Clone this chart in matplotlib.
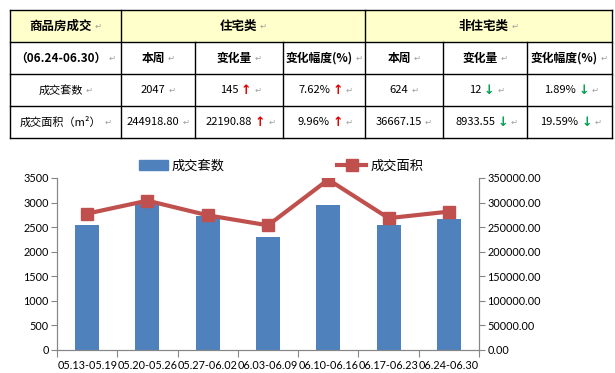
import numpy as np
import matplotlib
matplotlib.use('Agg')
import matplotlib.pyplot as plt
from matplotlib.lines import Line2D
from matplotlib.patches import Patch, Rectangle

plt.rcParams['font.family'] = ['Noto Sans CJK SC', 'DejaVu Sans']

# 图表数据
weeks = ['05.13-05.19', '05.20-05.26', '05.27-06.02', '06.03-06.09',
         '06.10-06.16', '06.17-06.23', '06.24-06.30']
units = [2551, 3000, 2720, 2293, 2958, 2538, 2671]           # 成交套数
area = [277500, 303900, 274100, 253700, 346700, 268330, 281590]  # 成交面积

# 表格数据
header_top = ['商品房成交', '住宅类', '非住宅类']
header_sub = ['（06.24-06.30）', '本周', '变化量', '变化幅度(%)',
              '本周', '变化量', '变化幅度(%)']
row_labels = ['成交套数', '成交面积（m²）']
units_row = ['2047', '145', '7.62%', '624', '12', '1.89%']
area_row = ['244918.80', '22190.88', '9.96%', '36667.15', '8933.55', '19.59%']
trend = [None, 'up', 'up', None, 'down', 'down']

W, H = 615, 373
fig = plt.figure(figsize=(W / 100, H / 100), dpi=100)

# ---- 表格 ----
tab = fig.add_axes([0, 0, 1, 1])
tab.set_xlim(0, W)
tab.set_ylim(H, 0)
tab.axis('off')

col_x = [10, 121, 195, 283, 365, 443, 527, 612]
row_y = [10, 42, 74, 106, 138]
grey = '#a0a0a0'

tab.add_patch(Rectangle((col_x[0], row_y[0]), col_x[-1] - col_x[0], row_y[1] - row_y[0],
                        facecolor='#ffffcc', edgecolor='none'))
for y in row_y:
    tab.plot([col_x[0], col_x[-1]], [y, y], color='black', lw=1)
for i, x in enumerate(col_x):
    if i in (2, 3, 5, 6):
        tab.plot([x, x], [row_y[1], row_y[-1]], color='black', lw=1)
    else:
        tab.plot([x, x], [row_y[0], row_y[-1]], color='black', lw=1)


def cell(x0, x1, y0, y1, s, bold=False, arrow=None, size=8):
    shift = 5 if arrow is None else 10
    cx = (x0 + x1) / 2 - shift
    cy = (y0 + y1) / 2
    t = tab.text(cx, cy, s, ha='center', va='center', fontsize=size,
                 fontweight='bold' if bold else 'normal')
    last = t
    if arrow is not None:
        last = tab.annotate('↑' if arrow == 'up' else '↓', xy=(1, 0.5), xycoords=t,
                            xytext=(2, 0), textcoords='offset points', va='center',
                            fontsize=size + 1, fontweight='bold', family='DejaVu Sans',
                            color='#e00000' if arrow == 'up' else '#00a050')
    tab.annotate('↵', xy=(1, 0.5), xycoords=last, xytext=(2, 0),
                 textcoords='offset points', va='center', fontsize=6,
                 family='DejaVu Sans', color=grey)


cell(col_x[0], col_x[1], row_y[0], row_y[1], header_top[0], bold=True, size=9)
cell(col_x[1], col_x[4], row_y[0], row_y[1], header_top[1], bold=True, size=9)
cell(col_x[4], col_x[7], row_y[0], row_y[1], header_top[2], bold=True, size=9)
for j, s in enumerate(header_sub):
    cell(col_x[j], col_x[j + 1], row_y[1], row_y[2], s, bold=True, size=8.5)
for r, vals in enumerate([units_row, area_row]):
    y0, y1 = row_y[r + 2], row_y[r + 3]
    cell(col_x[0], col_x[1], y0, y1, row_labels[r])
    for j, s in enumerate(vals):
        cell(col_x[j + 1], col_x[j + 2], y0, y1, s, arrow=trend[j])

# ---- 图表 ----
ax = fig.add_axes([57 / W, 1 - 350 / H, 422 / W, 172 / H])
ax2 = ax.twinx()
x = np.arange(len(weeks))
bars = ax.bar(x, units, width=0.4, color='#4f81bd', zorder=2)
line, = ax2.plot(x, area, color='#c0504d', lw=3, marker='s', markersize=9, zorder=3)

ax.set_xlim(-0.5, len(weeks) - 0.5)
ax.set_ylim(0, 3500)
ax.set_yticks(np.arange(0, 3501, 500))
ax2.set_ylim(0, 350000)
ax2.set_yticks(np.arange(0, 350001, 50000))
ax2.set_yticklabels(['%.2f' % v for v in np.arange(0, 350001, 50000)])

ax.set_xticks(np.arange(-0.5, len(weeks), 1))
ax.set_xticklabels([])
ax.set_xticks(x, minor=True)
ax.set_xticklabels(weeks, minor=True)
ax.tick_params(axis='x', which='major', length=5, color='#868686')
ax.tick_params(axis='x', which='minor', length=0, pad=7)

ax.tick_params(axis='y', length=4, color='#868686', pad=2)
ax2.tick_params(axis='y', length=4, color='#868686', pad=2)
for a in (ax, ax2):
    for lab in a.get_yticklabels() + a.get_xticklabels(minor=True):
        lab.set_family('Lato')
        lab.set_fontsize(7.8)
    a.spines['top'].set_visible(False)
    for s in ('left', 'right', 'bottom'):
        a.spines[s].set_color('#868686')
ax.set_zorder(ax2.get_zorder() - 1)
ax.patch.set_visible(False)

fig.legend([Patch(color='#4f81bd'),
            Line2D([], [], color='#c0504d', lw=3, marker='s', markersize=9)],
           ['成交套数', '成交面积'], ncol=2, loc='center',
           bbox_to_anchor=(281 / W, 1 - 166 / H), frameon=False, fontsize=9.5,
           columnspacing=8.5, handlelength=2.2, handletextpad=0.3)

plt.savefig('out.png', dpi=100)
